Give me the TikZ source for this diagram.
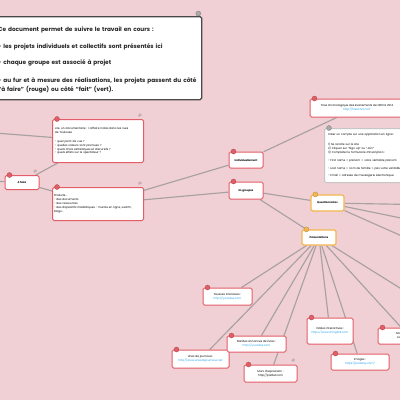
\documentclass[tikz,border=0pt]{standalone}
\usepackage{fontspec}
\setmainfont{Poppins}
\usetikzlibrary{backgrounds}
\definecolor{fond}{HTML}{F0D0D4}
\definecolor{rouge}{HTML}{E35D66}
\definecolor{ambre}{HTML}{F4B64E}
\definecolor{cendre}{HTML}{A9A9A9}
\definecolor{trait}{HTML}{A8A1A2}
\definecolor{lien}{HTML}{22A3E8}
\definecolor{ardoise}{HTML}{484848}
\newcommand{\adresse}[1]{\textcolor{lien}{#1}}

\begin{document}
\begin{tikzpicture}[x=1pt,y=-1pt]
  \tikzset{
    bloc/.style={rectangle,draw=rouge,fill=white,rounded corners=1.5pt,line width=1pt,inner sep=1.5pt,align=center,font=\fontsize{2.8}{3.9}\selectfont},
    titre/.style={bloc,font=\fontsize{2.6}{3.9}\selectfont\bfseries},
    groupe/.style={titre,draw=ambre,line width=1.2pt},
    texte/.style={bloc,align=left,anchor=north west},
    pastille/.style={circle,fill=#1,draw=#1!75!black,line width=0.3pt,minimum size=5pt,inner sep=0pt},
    trombone/.style={text=gray,inner sep=0pt,font=\fontsize{3.6}{4}\selectfont},
    branche/.style={draw=trait,line width=1.15pt}
  }
  \useasboundingbox (0,0) rectangle (400,400);
  \begin{pgfonlayer}{background}
    \fill[fond] (0,0) rectangle (400,400);
  \end{pgfonlayer}

  % note de presentation
  \node[texte,draw=ardoise,line width=1.3pt,text=black!85,inner xsep=2.5pt,text width=201pt,minimum height=83pt,font=\fontsize{5.8}{9}\selectfont\bfseries] (note) at (-5,16)
    {\rule{0pt}{8pt}Ce document permet de suivre le travail en cours :\\[8pt]
     - les projets individuels et collectifs sont présentés ici\\[7pt]
     - chaque groupe est associé à projet\\[9pt]
     - au fur et à mesure des réalisations, les projets passent du côté\\
     “à faire” (rouge) ou côté “fait” (vert).};

  % branche a faire
  \node[titre,minimum width=34pt,minimum height=14pt] (afaire) at (22,182.5) {A faire};
  \node[texte,minimum width=91pt,minimum height=43pt,text width=86pt] (lire) at (52,119)
    {Lire, un documentaire : L'affaire Calas dans les rues\\ de Toulouse\\[5pt]
     - quel point de vue ?\\
     - quelles valeurs sont promues ?\\
     - quels choix esthétiques et discursifs ?\\
     - quels effets sur le spectateur ?};
  \node[texte,minimum width=91pt,minimum height=33pt,text width=88pt] (produits) at (52,187)
    {Produits...\\
     - des documents\\
     - des ressources\\
     - des dispositifs médiatiques : murale en ligne, webTV,\\
     blogs...};
  \node[titre,minimum width=34pt,minimum height=16pt] (indiv) at (246,160) {Individuellement};
  \node[titre,minimum width=34pt,minimum height=17pt] (groupes) at (246,190.5) {En groupes};
  \node[bloc,minimum width=94pt,minimum height=18pt] (frise) at (357,108)
    {Frise chronologique des événements de 1483 à 2014\\\adresse{http://frisechrono.fr}};
  \node[texte,draw=gray!45,minimum height=54pt,text width=120pt,inner xsep=3.5pt] (creer) at (324,128)
    {Créer un compte sur une application en ligne :\\[6pt]
     1) Se rendre sur le site\\
     2) Cliquer sur “Sign up” ou “Join”\\
     3) Compléter le formulaire d'inscription :\\[4pt]
     - First name = prénom = votre véritable prénom\\[4pt]
     - Last name = nom de famille = pas votre véritable nom\\[4pt]
     - Email = adresse de messagerie électronique};
  \node[groupe,minimum width=33pt,minimum height=16pt] (questionnaires) at (327.5,203) {Questionnaires};
  \node[groupe,minimum width=34pt,minimum height=15pt] (presentations) at (319,237.5) {Présentations};

  % productions
  \node[bloc,minimum width=49pt,minimum height=17pt] (pauses) at (227.5,296.5) {Fausses interviews :\\\adresse{http://youtube.com}};
  \node[bloc,minimum width=57pt,minimum height=18pt] (unes) at (200.5,359) {Unes de journaux :\\\adresse{http://www.unesdejournaux.net}};
  \node[bloc,minimum width=59pt,minimum height=16pt] (bandes) at (256.5,344) {Bandes annonces de livres :\\\adresse{http://youtube.com}};
  \node[bloc,minimum width=53pt,minimum height=17pt] (murs) at (270.5,373.5) {Murs d'expression :\\http://padlet.com};
  \node[bloc,minimum width=46pt,minimum height=26pt] (videos) at (330,331) {Vidéos interactives :\\\adresse{https://www.thinglink.com}};
  \node[bloc,minimum width=58pt,minimum height=16pt] (images) at (360,362) {Images :\\\adresse{https://pixabay.com/}};
  \node[bloc,minimum width=62pt,minimum height=16pt] (logiciel) at (409,336) {Sons et musiques :\\Logiciel Audacity};

  % marques
  \foreach \n in {afaire,lire,produits,indiv,groupes,frise,pauses,unes,bandes,murs,videos,images,logiciel}
    \node[pastille=rouge] at ([xshift=5pt]\n.north west) {};
  \foreach \n in {questionnaires,presentations}
    \node[pastille=ambre] at ([xshift=5pt]\n.north west) {};
  \node[pastille=cendre] at ([xshift=5pt]creer.north west) {};
  \node[pastille=cendre] at ([xshift=-4pt,yshift=2.5pt]note.north east) {};
  \foreach \n in {afaire,lire,produits,murs}
    \node[trombone] at ([xshift=-4pt,yshift=3.5pt]\n.north east) {@};

  % liaisons
  \coordinate (gaucheA) at (-60,128.7);
  \coordinate (gaucheB) at (-30,180);
  \coordinate (droiteA) at (440,205);
  \coordinate (droiteB) at (440,226);
  \coordinate (droiteC) at (440,253);
  \coordinate (droiteD) at (440,313);
  \begin{pgfonlayer}{background}
    \draw[branche] (gaucheA) -- (lire);
    \draw[branche] (gaucheB) -- (afaire);
    \draw[branche] (afaire) -- (lire);
    \draw[branche] (afaire) -- (produits);
    \draw[branche] (produits) -- (indiv);
    \draw[branche] (produits) -- (groupes);
    \draw[branche] (indiv) -- (frise);
    \draw[branche] (groupes) -- (questionnaires);
    \draw[branche] (groupes) -- (presentations);
    \foreach \cible in {droiteA,droiteB,droiteC}
      \draw[branche] (questionnaires) -- (\cible);
    \foreach \cible in {pauses,unes,bandes,murs,videos,images,logiciel,droiteD}
      \draw[branche] (presentations) -- (\cible);
  \end{pgfonlayer}
\end{tikzpicture}
\end{document}
